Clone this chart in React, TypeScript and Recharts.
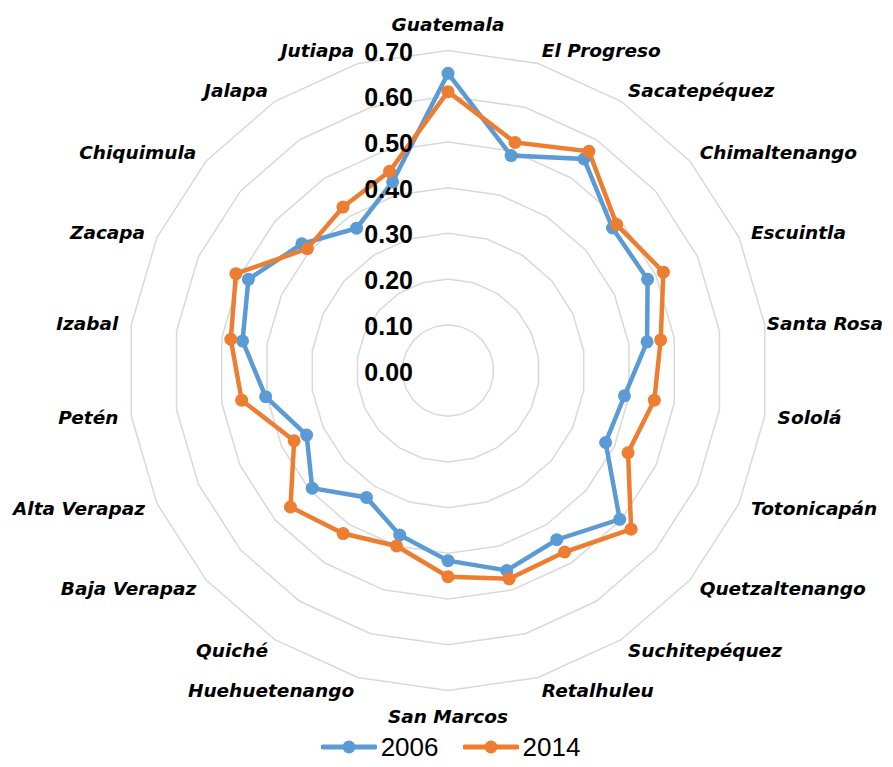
import React from "react";
import { RadarChart, Radar, PolarGrid, PolarAngleAxis, PolarRadiusAxis, Legend } from "recharts";

const categories = [
  "Guatemala", "El Progreso", "Sacatepéquez", "Chimaltenango", "Escuintla", "Santa Rosa",
  "Sololá", "Totonicapán", "Quetzaltenango", "Suchitepéquez", "Retalhuleu", "San Marcos",
  "Huehuetenango", "Quiché", "Baja Verapaz", "Alta Verapaz", "Petén", "Izabal",
  "Zacapa", "Chiquimula", "Jalapa", "Jutiapa",
];
const values2006 = [
  0.65, 0.49, 0.55, 0.476, 0.48, 0.44, 0.39, 0.379, 0.497, 0.44, 0.456, 0.416,
  0.375, 0.33, 0.393, 0.34, 0.403, 0.454, 0.48, 0.423, 0.37, 0.43,
];
const values2014 = [
  0.61, 0.52, 0.57, 0.488, 0.518, 0.47, 0.456, 0.433, 0.53, 0.472, 0.475, 0.451,
  0.40, 0.424, 0.456, 0.37, 0.456, 0.48, 0.51, 0.407, 0.425, 0.454,
];
const radiusTicks = [0, 0.1, 0.2, 0.3, 0.4, 0.5, 0.6, 0.7];
const seriesNames = ["2006", "2014"];
const seriesColors = ["#5B9BD5", "#ED7D31"];

const data = categories.map((name, i) => ({ name, v2006: values2006[i], v2014: values2014[i] }));

const W = 885;
const H = 751;
const CX = 440;
const CY = 362.5;
const RING_MAX = 0.7; // last grid ring value
const RING_PX = 320; // radius of the last grid ring
const DOMAIN_MAX = 1;
const OUTER = (RING_PX / RING_MAX) * DOMAIN_MAX;
const LABEL_FONT = "italic bold 18.5px 'DejaVu Sans'";
const RIGHT_LIMIT = 875;

let measureCtx: CanvasRenderingContext2D | null = null;
const measure = (t: string) => {
  try {
    if (!measureCtx) measureCtx = document.createElement("canvas").getContext("2d");
    if (measureCtx) {
      measureCtx.font = LABEL_FONT;
      return measureCtx.measureText(t).width;
    }
  } catch (e) {}
  return t.length * 11.5;
};

const AngleTick = (props: any) => {
  const { x, y, payload } = props;
  const dx = x - CX;
  const dy = y - CY;
  const d = Math.hypot(dx, dy) || 1;
  const s = dx / d;
  const c = -dy / d;
  const R = RING_PX + 13;
  let px = CX + R * s;
  let py = CY - R * c;
  const anchor = Math.abs(s) < 0.05 ? "middle" : s > 0 ? "start" : "end";
  if (anchor === "middle") py += c > 0 ? -13 : 13;
  if (anchor === "start") {
    const w = measure(String(payload.value));
    if (px + w > RIGHT_LIMIT) px = RIGHT_LIMIT - w;
  }
  return (
    <text
      x={px}
      y={py}
      textAnchor={anchor}
      dominantBaseline="central"
      fontFamily="DejaVu Sans"
      fontWeight="bold"
      fontStyle="italic"
      fontSize={18.5}
      fill="#000"
    >
      {payload.value}
    </text>
  );
};

const RadiusTick = (props: any) => {
  const { x, y, payload } = props;
  return (
    <text
      x={x - 35}
      y={y + 1}
      textAnchor="end"
      dominantBaseline="central"
      fontFamily="Liberation Sans"
      fontWeight="bold"
      fontSize={25}
      fill="#000"
    >
      {Number(payload.value).toFixed(2)}
    </text>
  );
};

const makeDot = (color: string) => (p: any) => {
  const x = p.cx ?? p.x;
  const y = p.cy ?? p.y;
  return <circle key={`${color}-${p.index}-${x}`} cx={x} cy={y} r={6.5} fill={color} stroke="none" />;
};

const LegendContent = () => (
  <div style={{ display: "flex", justifyContent: "center", alignItems: "center", height: 24 }}>
    {seriesNames.map((n, i) => (
      <div key={n} style={{ display: "flex", alignItems: "center", marginLeft: i === 0 ? 0 : 24 }}>
        <svg width={56} height={16}>
          <line x1={2} y1={8} x2={54} y2={8} stroke={seriesColors[i]} strokeWidth={5} strokeLinecap="round" />
          <circle cx={28} cy={8} r={6.5} fill={seriesColors[i]} />
        </svg>
        <span style={{ fontFamily: "Liberation Sans", fontSize: 26, color: "#000", marginLeft: 4, lineHeight: "24px" }}>{n}</span>
      </div>
    ))}
  </div>
);

export default function App() {
  return (
    <RadarChart width={W} height={H} data={data} cx={CX} cy={CY} outerRadius={OUTER} margin={{ top: 0, right: 0, bottom: 0, left: 0 }}>
      <PolarGrid gridType="polygon" radialLines={false} stroke="#d9d9d9" strokeWidth={1.5} />
      <PolarAngleAxis dataKey="name" tick={<AngleTick />} axisLine={false} tickLine={false} />
      <PolarRadiusAxis
        type="number"
        angle={90}
        domain={[0, DOMAIN_MAX]}
        allowDataOverflow={true}
        ticks={radiusTicks as any}
        tick={false}
        axisLine={false}
        tickLine={false}
      />
      <Radar
        name={seriesNames[0]}
        dataKey="v2006"
        stroke={seriesColors[0]}
        strokeWidth={4.5}
        fill="none"
        fillOpacity={0}
        dot={makeDot(seriesColors[0])}
        activeDot={false}
        isAnimationActive={false}
      />
      <Radar
        name={seriesNames[1]}
        dataKey="v2014"
        stroke={seriesColors[1]}
        strokeWidth={4.5}
        fill="none"
        fillOpacity={0}
        dot={makeDot(seriesColors[1])}
        activeDot={false}
        isAnimationActive={false}
      />
      <PolarRadiusAxis
        type="number"
        angle={90}
        domain={[0, DOMAIN_MAX]}
        allowDataOverflow={true}
        ticks={radiusTicks as any}
        tick={<RadiusTick />}
        axisLine={false}
        tickLine={false}
      />
      <Legend verticalAlign="bottom" height={24} content={<LegendContent />} />
    </RadarChart>
  );
}
